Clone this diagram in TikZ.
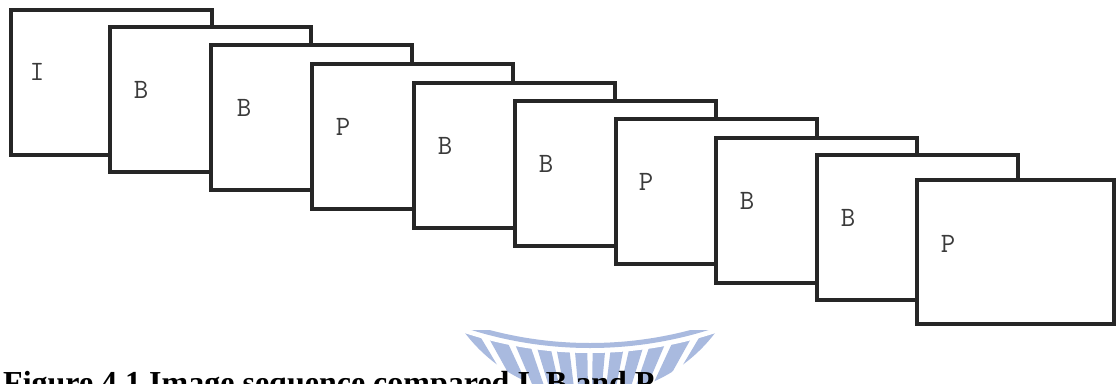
\documentclass[tikz,border=0pt]{standalone}
\usepackage{fontspec}
\setmainfont{Liberation Serif}
\usepackage{xcolor}
\usepackage{tikz}
\usetikzlibrary{calc}
\definecolor{ink}{HTML}{262626}
\definecolor{tagGray}{HTML}{3A3A3A}
\definecolor{sealBlue}{HTML}{A9BADF}

\begin{document}
\begin{tikzpicture}[x=1pt,y=-1pt,
  frame/.style={draw=ink,line width=3.4pt,fill=white,anchor=north west,outer sep=0pt,inner sep=0pt,minimum width=201pt,minimum height=145pt},
  tag/.style={font=\ttfamily\fontsize{28}{28}\selectfont,text=tagGray,anchor=base,inner sep=0pt}]
\useasboundingbox (0,0) rectangle (1116,383);
\clip (0,0) rectangle (1116,383);
% seal behind the caption
\coordinate (hub) at (590,520);
\begin{scope}
  \clip (0,330) rectangle (1116,383);
  \begin{scope}
    \clip (590,238) circle (157);
    \foreach \a in {237,243,...,303}
      \fill[sealBlue] (hub) -- ($(hub)+({\a-2.1}:320)$) -- ($(hub)+({\a+2.1}:320)$) -- cycle;
  \end{scope}
  \fill[white] (590,-49) circle (402);
  \draw[sealBlue,line width=5pt] (590,-49) circle (394.5);
\end{scope}
% frames : I B B P B B P B B P
\node[frame] (f1) at (11,10) {};
\node[frame] (f2) at (110,27) {};
\node[frame] (f3) at (211,45) {};
\node[frame] (f4) at (312,64) {};
\node[frame] (f5) at (414,83) {};
\node[frame] (f6) at (515,101) {};
\node[frame] (f7) at (616,119) {};
\node[frame] (f8) at (716,138) {};
\node[frame] (f9) at (817,155) {};
\node[frame,minimum width=197pt,minimum height=144pt] (f10) at (917,180) {};
% frame types
\node[tag] (t1) at ($(f1.north west)+(26,70)$) {I};
\node[tag] (t2) at ($(f2.north west)+(31,71)$) {B};
\node[tag] (t3) at ($(f3.north west)+(33,71)$) {B};
\node[tag] (t4) at ($(f4.north west)+(31,71)$) {P};
\node[tag] (t5) at ($(f5.north west)+(31,71)$) {B};
\node[tag] (t6) at ($(f6.north west)+(31,71)$) {B};
\node[tag] (t7) at ($(f7.north west)+(30,71)$) {P};
\node[tag] (t8) at ($(f8.north west)+(31,71)$) {B};
\node[tag] (t9) at ($(f9.north west)+(31,71)$) {B};
\node[tag] (t10) at ($(f10.north west)+(31,72)$) {P};
% caption
\node[font=\bfseries\fontsize{32}{32}\selectfont,anchor=base west,inner sep=0pt] (cap) at (3,393) {Figure 4.1 Image sequence compared I, B and P};
\end{tikzpicture}
\end{document}
